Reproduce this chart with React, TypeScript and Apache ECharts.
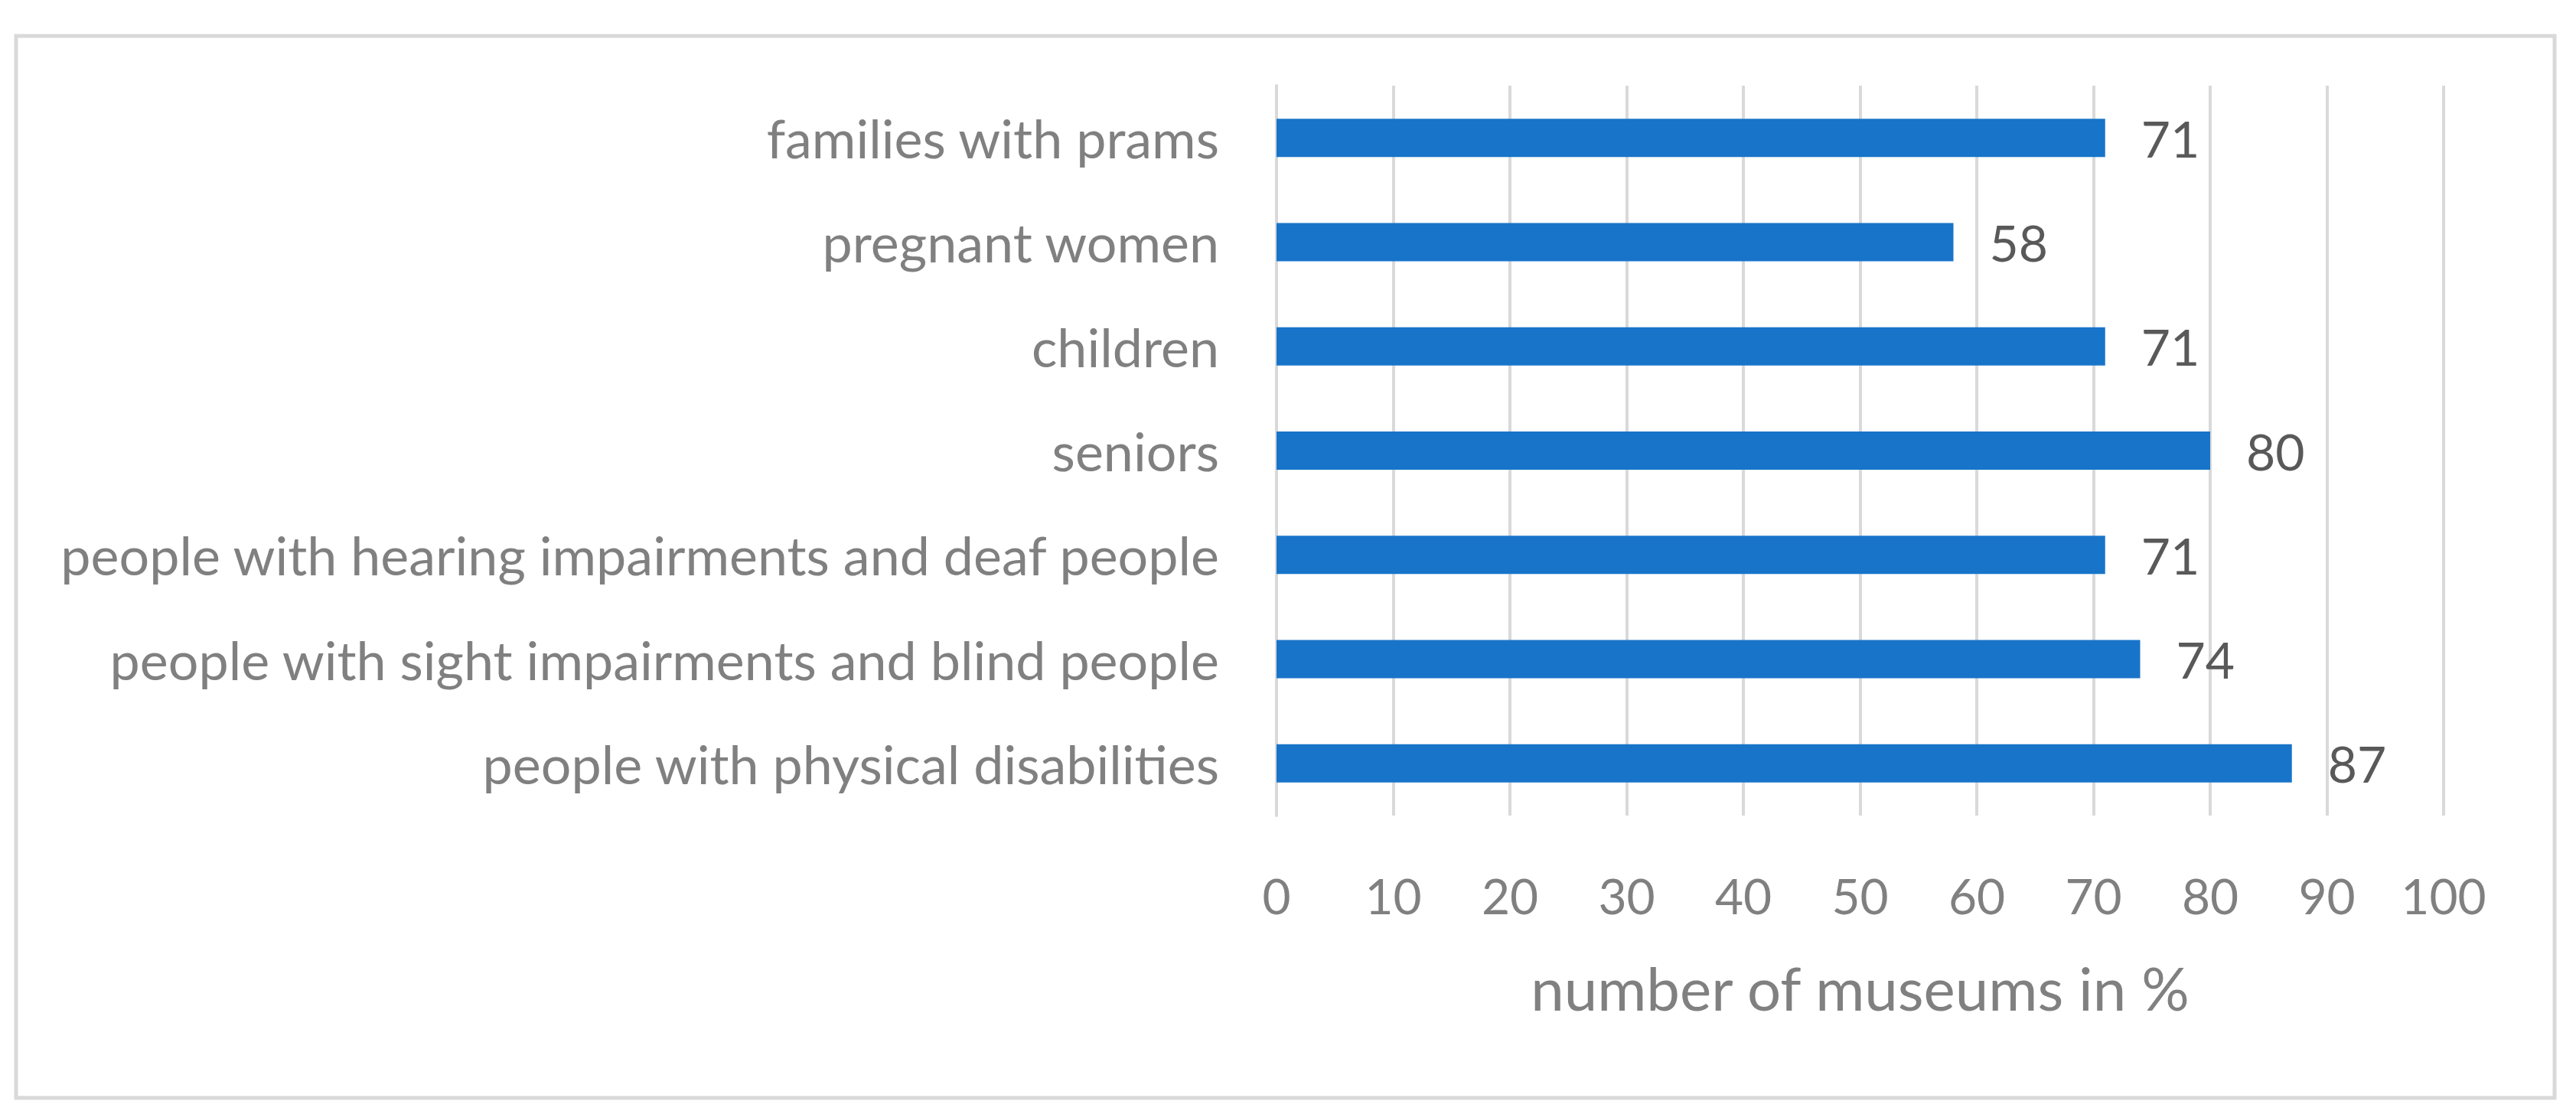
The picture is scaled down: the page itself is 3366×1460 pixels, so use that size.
import React, { useEffect, useRef } from "react";
import * as echarts from "echarts";

const categories = [
  "families with prams",
  "pregnant women",
  "children",
  "seniors",
  "people with hearing impairments and deaf people",
  "people with sight impairments and blind people",
  "people with physical disabilities",
];
const values = [71, 58, 71, 80, 71, 74, 87];
const axisTitle = "number of museums in %";
const xMin = 0;
const xMax = 100;
const xStep = 10;

const FONT = "Lato";

export default function App() {
  const ref = useRef<HTMLDivElement>(null);
  useEffect(() => {
    document.body.style.margin = "0";
    const chart = echarts.init(ref.current!, null, { renderer: "svg" });
    chart.setOption({
      animation: false,
      backgroundColor: "#ffffff",
      textStyle: { fontFamily: FONT },
      graphic: [
        {
          type: "rect",
          shape: { x: 21, y: 47, width: 3317, height: 1388 },
          style: { fill: "none", stroke: "#d9d9d9", lineWidth: 5 },
          silent: true,
        },
      ],
      grid: { left: 1668, right: 173, top: 112, bottom: 394, containLabel: false },
      xAxis: {
        type: "value",
        min: xMin,
        max: xMax,
        interval: xStep,
        name: axisTitle,
        nameLocation: "middle",
        nameGap: 186,
        nameTextStyle: { fontSize: 78, color: "#808080", fontFamily: FONT },
        axisLine: { show: false },
        axisTick: { show: false },
        axisLabel: { fontSize: 64, color: "#808080", margin: 72, fontFamily: FONT },
        splitLine: { show: true, lineStyle: { color: "#d9d9d9", width: 4 } },
      },
      yAxis: {
        type: "category",
        inverse: true,
        data: categories,
        axisLine: { show: true, lineStyle: { color: "#d9d9d9", width: 4 } },
        axisTick: { show: false },
        axisLabel: { fontSize: 70, color: "#808080", margin: 75, fontFamily: FONT },
      },
      series: [
        {
          type: "bar",
          data: values,
          barWidth: 50,
          itemStyle: { color: "#1874c9" },
          label: {
            show: true,
            position: "right",
            distance: 47,
            fontSize: 66,
            color: "#595959",
            fontFamily: FONT,
          },
        },
      ],
    });
    return () => chart.dispose();
  }, []);
  return (
    <div
      ref={ref}
      style={{ position: "fixed", left: 0, top: 0, width: 3366, height: 1460 }}
    />
  );
}
